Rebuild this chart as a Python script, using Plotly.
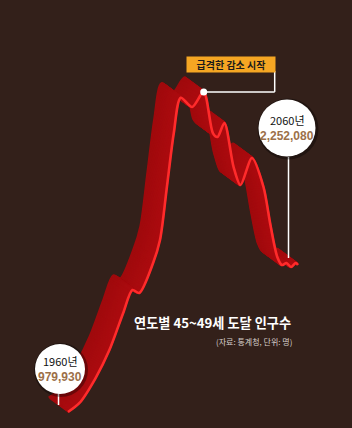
import numpy as np
import plotly.graph_objects as go

# ---- data ----
years = [1960, 1965, 1972, 1978, 1984, 1988, 1991, 1997, 2000, 2003, 2006, 2009,
         2014, 2019, 2023, 2025, 2028, 2032, 2035, 2040, 2045, 2048, 2051, 2053,
         2055, 2057, 2059, 2060]
population = [979930, 1058000, 1274000, 1516000, 1837000, 2036000, 2010000, 2269000,
              2468000, 2927000, 3394000, 3700000, 3620000, 3750000, 3394000, 3360000,
              3481000, 3100000, 2944000, 3178000, 2927000, 2600000, 2321000, 2252000,
              2269000, 2235000, 2269000, 2252080]
title_text = "연도별 45~49세 도달 인구수"
source_text = "(자료: 통계청, 단위: 명)"
note_text = "급격한 감소 시작"
note_year, note_value = 2019, 3750000
start_label = ("1960년", "979,930")
end_label = ("2060년", "2,252,080")

W, H = 352, 428
X_RANGE = [1930.43, 2083.48]
Y_RANGE = [841466, 4545380]
px_per_year = W / (X_RANGE[1] - X_RANGE[0])
val_per_px = (Y_RANGE[1] - Y_RANGE[0]) / H

BG = "#33201a"
fig = go.Figure()

# ribbon (swept copies of the line toward the back)
DX_PX, DY_PX = -19, 14
n = 32
def lerp(c1, c2, t):
    return "rgb(%d,%d,%d)" % tuple(int(a + (b - a) * t) for a, b in zip(c1, c2))
for i in range(n, 0, -1):
    t = i / n
    xs = [y + t * DX_PX / px_per_year for y in years]
    ys = [v + t * DY_PX * val_per_px for v in population]
    col = lerp((172, 12, 16), (160, 10, 13), t)
    fig.add_trace(go.Scatter(x=xs, y=ys, mode="lines",
                             line=dict(color=col, width=3.2, shape="spline", smoothing=0.8),
                             hoverinfo="skip", showlegend=False))
# front line
fig.add_trace(go.Scatter(x=years, y=population, mode="lines",
                         line=dict(color="#ff2b2b", width=2.6, shape="spline", smoothing=0.8),
                         hoverinfo="skip", showlegend=False))
# marker point
fig.add_trace(go.Scatter(x=[note_year], y=[note_value], mode="markers",
                         marker=dict(color="white", size=7), hoverinfo="skip", showlegend=False))

shapes = []
# connector for note
shapes.append(dict(type="line", xref="x", yref="y", xsizemode="pixel", ysizemode="pixel",
                   xanchor=note_year, yanchor=note_value, x0=0, x1=71, y0=0, y1=0,
                   line=dict(color="white", width=1.5)))
shapes.append(dict(type="line", xref="x", yref="y", xsizemode="pixel", ysizemode="pixel",
                   xanchor=note_year, yanchor=note_value, x0=71, x1=71, y0=0, y1=21,
                   line=dict(color="white", width=1.5)))

NUM_FONT = "Liberation Sans, Arial, sans-serif"

def callout(year, value, cx, cy, r, stick_top, label, value_text):
    # stick at ribbon middle
    sx = DX_PX / 2
    sy = DY_PX / 2
    shapes.append(dict(type="line", xref="x", yref="y", xsizemode="pixel", ysizemode="pixel",
                       xanchor=year, yanchor=value, x0=sx, x1=sx, y0=sy, y1=stick_top,
                       line=dict(color="white", width=1.5)))
    shapes.append(dict(type="circle", xref="x", yref="y", xsizemode="pixel", ysizemode="pixel",
                       xanchor=year, yanchor=value, x0=cx - r - 1, x1=cx + r + 3,
                       y0=cy - r - 3, y1=cy + r + 1,
                       fillcolor="rgba(0,0,0,0.35)", line=dict(width=0)))
    shapes.append(dict(type="circle", xref="x", yref="y", xsizemode="pixel", ysizemode="pixel",
                       xanchor=year, yanchor=value, x0=cx - r, x1=cx + r, y0=cy - r, y1=cy + r,
                       fillcolor="white", line=dict(width=0)))
    fig.add_annotation(x=year, y=value, xref="x", yref="y", xshift=cx, yshift=cy + 8,
                       text=label, showarrow=False,
                       font=dict(family="Noto Sans CJK KR", size=11, color="#111111"))
    fig.add_annotation(x=year, y=value, xref="x", yref="y", xshift=cx, yshift=cy - 8,
                       text="<b>" + value_text + "</b>", showarrow=False,
                       font=dict(family=NUM_FONT, size=12, color="#9c7049"))

callout(years[0], population[0], -8, 43, 25, 19, *start_label)
callout(years[-1], population[-1], -11, 137, 28.5, 108, *end_label)

# note box
fig.add_annotation(x=note_year, y=note_value, xref="x", yref="y", xshift=27, yshift=27.5,
                   text="<b>" + note_text + "</b>", showarrow=False,
                   bgcolor="#f5a623", width=88, height=15, borderpad=0,
                   font=dict(family="Noto Sans CJK KR", size=10, color="#1a1a1a"))

# title & source
fig.add_annotation(x=293 / W, y=1 - 322 / H, xref="paper", yref="paper", xanchor="right",
                   yanchor="middle", text="<b>" + title_text + "</b>", showarrow=False,
                   font=dict(family="Noto Sans CJK KR", size=13.2, color="white"))
fig.add_annotation(x=294 / W, y=1 - 341 / H, xref="paper", yref="paper", xanchor="right",
                   yanchor="middle", text=source_text, showarrow=False,
                   font=dict(family="Noto Sans CJK KR", size=8, color="#d8d0cc"))

fig.update_layout(width=W, height=H, margin=dict(l=0, r=0, t=0, b=0),
                  paper_bgcolor=BG, plot_bgcolor=BG, shapes=shapes,
                  xaxis=dict(range=X_RANGE, visible=False, fixedrange=True),
                  yaxis=dict(range=Y_RANGE, visible=False, fixedrange=True),
                  showlegend=False)
fig.write_html("out.html", config={"displayModeBar": False})
